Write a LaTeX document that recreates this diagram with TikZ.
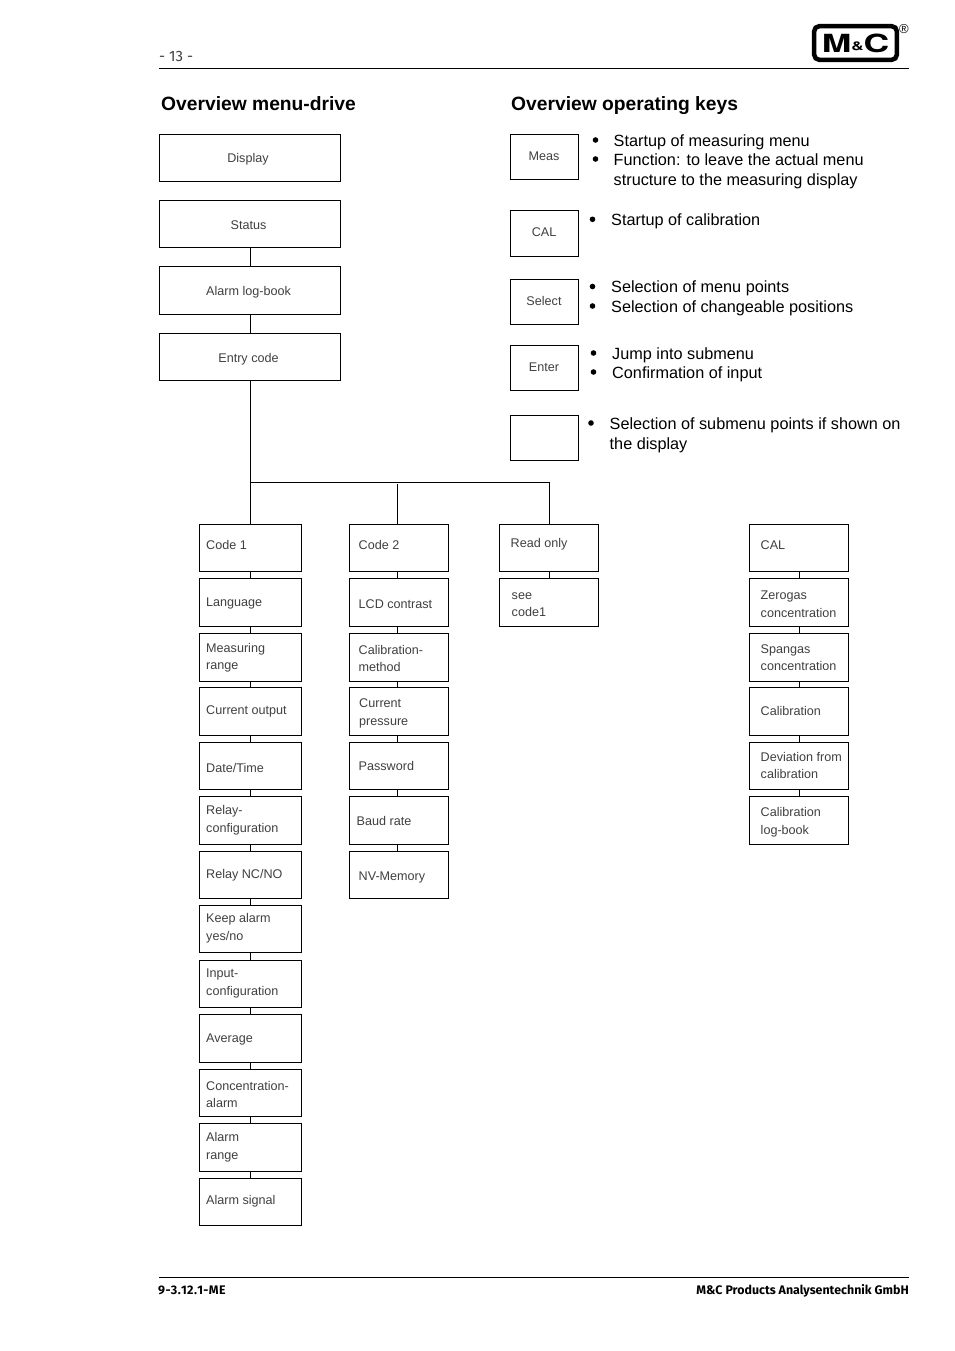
\documentclass[tikz,border=0pt]{standalone}
\usepackage{fontspec}
\usepackage{graphicx}
\setmainfont{Liberation Sans}
\newfontfamily\footfont{Fira Sans}
\newfontfamily\logofont{TeX Gyre Heros}
\definecolor{lbl}{gray}{0.25}
\newcommand\lt[1]{\rule{0pt}{11pt}#1\rule[-1pt]{0pt}{1pt}}
\newcommand\kt[1]{\rule{0pt}{13.7pt}#1\rule[-1.3pt]{0pt}{1.3pt}}
\tikzset{
  box/.style={draw=black,line width=1.1pt,fill=white,inner sep=0pt},
  lab/.style={font=\fontsize{12.6}{17.6}\selectfont,text=lbl,align=left,inner sep=0pt},
  keytext/.style={font=\fontsize{16.25}{19.2}\selectfont,text=black,align=left,inner sep=0pt},
  bul/.style={circle,fill=black,draw=none,minimum size=5.6pt,inner sep=0pt},
  head/.style={font=\fontsize{19.25}{24}\selectfont\bfseries,inner sep=0pt,anchor=base west},
  foot/.style={font=\footfont\fontsize{12.4}{14}\selectfont\bfseries,inner sep=0pt,text height=9pt,text depth=2pt},
  wire/.style={draw=black,line width=1.1pt},
  rulel/.style={draw=black,line width=1pt}
}
% name, x0, y0, x1, y1, text x, text y, anchor, text
\newcommand\bx[9]{%
  \node[box,minimum width={#4-#2},minimum height={#5-#3}] (#1) at ({(#2+#4)/2},{(#3+#5)/2}) {};
  \node[lab,anchor=#8] (#1-t) at (#6,#7) {\lt{#9}};}
\begin{document}
\begin{tikzpicture}[x=1pt,y=-1pt]
\useasboundingbox (0,0) rectangle (954,1351);
\fill[white] (0,0) rectangle (954,1351);
% header
\coordinate (hl) at (159,68.5); \coordinate (hr) at (909,68.5);
\draw[rulel] (hl) -- (hr);
\node[font=\footfont\fontsize{15}{18}\selectfont,text=lbl,anchor=west,inner sep=0pt] (pg) at (159,56) {- 13 -};
\node[draw=black,line width=4.5pt,rounded corners=5pt,minimum width=82.6pt,minimum height=33.6pt,inner sep=0pt] (logo) at (855.5,43)
  {\scalebox{1.42}[1]{\logofont\bfseries\fontsize{25}{25}\selectfont M\raisebox{2pt}{\fontsize{12}{12}\selectfont\&}C}};
\node[font=\fontsize{13}{13}\selectfont,inner sep=0pt] (reg) at (904,29) {®};
% footer
\coordinate (fl) at (159,1277.5); \coordinate (fr) at (909,1277.5);
\draw[rulel] (fl) -- (fr);
\node[foot,anchor=west] (fa) at (158,1291) {\addfontfeature{Kerning=Off,LetterSpace=3}9-3.12.1-ME};
\node[foot,anchor=east] (fb) at (909,1291) {M\&C Products Analysentechnik GmbH};
% headings
\node[head] (h1) at (161,110.5) {Overview menu-drive};
\node[head] (h2) at (511,110.5) {Overview operating keys};
% top boxes
\bx{display}{159.5}{134.5}{340.5}{181.5}{248}{158.5}{center}{Display}
\bx{status}{159.5}{200.5}{340.5}{247.5}{248.5}{224.5}{center}{Status}
\bx{alarm}{159.5}{266.5}{340.5}{314.5}{248.5}{291.5}{center}{Alarm log-book}
\bx{entry}{159.5}{333.5}{340.5}{380.5}{248.5}{358.5}{center}{Entry code}
% keys
\bx{kmeas}{510.5}{134.5}{578.5}{179.5}{544}{155.5}{center}{Meas}
\bx{kcal}{510.5}{210.5}{578.5}{256.5}{544}{231.5}{center}{CAL}
\bx{ksel}{510.5}{279.5}{578.5}{324.5}{544}{300.5}{center}{Select}
\bx{kent}{510.5}{345.5}{578.5}{390.5}{544}{366.5}{center}{Enter}
\node[box,minimum width=68pt,minimum height=45pt] (kblank) at (544.5,438) {};
% key bullets
\node[bul] (b1) at (595.5,140) {};
\node[bul] (b2) at (595.5,159) {};
\node[keytext,anchor=west] (t1) at (613.5,141) {\kt{Startup of measuring menu}};
\node[keytext,anchor=north west] (t2) at (613.5,152) {\kt{Function: to leave the actual menu\\structure to the measuring display}};
\node[bul] (b3) at (592.5,219.3) {};
\node[keytext,anchor=west] (t3) at (611,220) {\kt{Startup of calibration}};
\node[bul] (b4) at (592.5,286.5) {};
\node[bul] (b5) at (592.5,306) {};
\node[keytext,anchor=west] (t4) at (611,287) {\kt{Selection of menu points}};
\node[keytext,anchor=west] (t5) at (611,307) {\kt{Selection of changeable positions}};
\node[bul] (b6) at (593.5,353) {};
\node[bul] (b7) at (593.5,372) {};
\node[keytext,anchor=west] (t6) at (612,354) {\kt{Jump into submenu}};
\node[keytext,anchor=west] (t7) at (612,373) {\kt{Confirmation of input}};
\node[bul] (b8) at (591,423) {};
\node[keytext,anchor=north west] (t8) at (609.5,416) {\kt{Selection of submenu points if shown on\\the display}};
% Code 1 column
\bx{a1}{199.5}{524.5}{301.5}{571.5}{206}{544.5}{west}{Code 1}
\bx{a2}{199.5}{578.5}{301.5}{626.5}{206}{602.5}{west}{Language}
\bx{a3}{199.5}{633.5}{301.5}{681.5}{206}{657}{west}{Measuring\\range}
\bx{a4}{199.5}{687.5}{301.5}{735.5}{206}{710.5}{west}{Current output}
\bx{a5}{199.5}{742.5}{301.5}{789.5}{206}{767.5}{west}{Date/Time}
\bx{a6}{199.5}{796.5}{301.5}{844.5}{206}{819}{west}{Relay-\\configuration}
\bx{a7}{199.5}{851.5}{301.5}{898.5}{206}{874.5}{west}{Relay NC/NO}
\bx{a8}{199.5}{905.5}{301.5}{952.5}{206}{927}{west}{Keep alarm\\yes/no}
\bx{a9}{199.5}{960.5}{301.5}{1007.5}{206}{982}{west}{Input-\\configuration}
\bx{a10}{199.5}{1014.5}{301.5}{1062.5}{206}{1038.5}{west}{Average}
\bx{a11}{199.5}{1069.5}{301.5}{1116.5}{206}{1094}{west}{Concentration-\\alarm}
\bx{a12}{199.5}{1123.5}{301.5}{1171.5}{206}{1146.5}{west}{Alarm\\range}
\bx{a13}{199.5}{1178.5}{301.5}{1225.5}{206}{1200.5}{west}{Alarm signal}
% Code 2 column
\bx{c1}{349.5}{524.5}{448.5}{571.5}{358.5}{544.5}{west}{Code 2}
\bx{c2}{349.5}{578.5}{448.5}{626.5}{358.5}{603.5}{west}{LCD contrast}
\bx{c3}{349.5}{633.5}{448.5}{681.5}{358.5}{658}{west}{Calibration-\\method}
\bx{c4}{349.5}{687.5}{448.5}{735.5}{359}{712}{west}{Current\\pressure}
\bx{c5}{349.5}{742.5}{448.5}{789.5}{358.5}{765.5}{west}{Password}
\bx{c6}{349.5}{796.5}{448.5}{844.5}{356.5}{820.5}{west}{Baud rate}
\bx{c7}{349.5}{851.5}{448.5}{898.5}{358.5}{876.5}{west}{NV-Memory}
% Read only column
\bx{r1}{499.5}{524.5}{598.5}{571.5}{510.5}{543.5}{west}{Read only}
\bx{r2}{499.5}{578.5}{598.5}{626.5}{511.5}{603}{west}{see\\code1}
% CAL column
\bx{d1}{749.5}{524.5}{848.5}{571.5}{760.5}{544.5}{west}{CAL}
\bx{d2}{749.5}{578.5}{848.5}{626.5}{760.5}{603.5}{west}{Zerogas\\concentration}
\bx{d3}{749.5}{633.5}{848.5}{681.5}{760.5}{657}{west}{Spangas\\concentration}
\bx{d4}{749.5}{687.5}{848.5}{735.5}{760.5}{710.5}{west}{Calibration}
\bx{d5}{749.5}{742.5}{848.5}{789.5}{760.5}{765}{west}{Deviation from\\calibration}
\bx{d6}{749.5}{796.5}{848.5}{844.5}{760.5}{821}{west}{Calibration\\log-book}
% connectors
\draw[wire] ([xshift=.5pt]status.south) -- ([xshift=.5pt]alarm.north);
\draw[wire] ([xshift=.5pt]alarm.south) -- ([xshift=.5pt]entry.north);
\draw[wire] ([xshift=.5pt]entry.south) -- (a1.north);
\coordinate (jy) at (0,482.5);
\coordinate (jz) at (0,484);
\coordinate (j1) at (a1.north |- jy);
\coordinate (j3) at ([xshift=.5pt]r1.north |- jy);
\coordinate (j2) at ([xshift=-1.5pt]c1.north |- jz);
\draw[wire] (j1) -- (j3) -- ([xshift=.5pt]r1.north);
\draw[wire] (j2) -- ([xshift=-1.5pt]c1.north);
\foreach \p/\q in {a1/a2,a2/a3,a3/a4,a4/a5,a5/a6,a6/a7,a7/a8,a8/a9,a9/a10,a10/a11,a11/a12,a12/a13}
  \draw[wire] (\p.south) -- (\q.north);
\foreach \p/\q in {r1/r2,d1/d2,d2/d3,d3/d4,d4/d5,d5/d6}
  \draw[wire] ([xshift=.5pt]\p.south) -- ([xshift=.5pt]\q.north);
\foreach \p/\q in {c1/c2,c2/c3,c3/c4,c4/c5,c5/c6,c6/c7}
  \draw[wire] ([xshift=-1.5pt]\p.south) -- ([xshift=-1.5pt]\q.north);
\end{tikzpicture}
\end{document}
